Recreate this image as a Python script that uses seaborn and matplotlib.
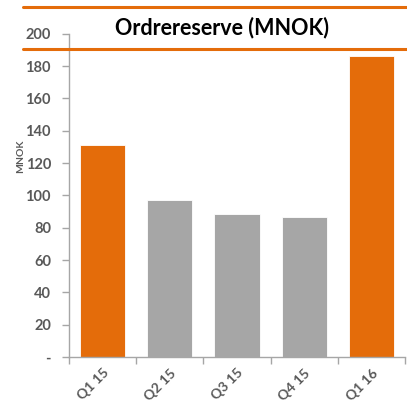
import matplotlib
matplotlib.use("Agg")
import matplotlib.pyplot as plt
import matplotlib.transforms as mtransforms
import seaborn as sns
import pandas as pd
from matplotlib.lines import Line2D

categories = ["Q1 15", "Q2 15", "Q3 15", "Q4 15", "Q1 16"]
values = [131, 97.4, 88.3, 86.7, 186.4]
bar_colors = ["#E46C0A", "#A6A6A6", "#A6A6A6", "#A6A6A6", "#E46C0A"]
yticks = [0, 20, 40, 60, 80, 100, 120, 140, 160, 180, 200]
ytick_labels = ["-"] + [str(v) for v in yticks[1:]]

sns.set_theme(style="white")
plt.rcParams['font.family'] = ['Lato', 'DejaVu Sans']

df = pd.DataFrame({"cat": categories, "val": values})

W, H = 407, 403
fig = plt.figure(figsize=(W / 100, H / 100), dpi=100)
ax = fig.add_axes([69 / W, 46 / H, (405 - 69) / W, (357 - 33.7) / H])

sns.barplot(data=df, x="cat", y="val", hue="cat", palette=bar_colors,
            legend=False, width=0.67, ax=ax, saturation=1,
            edgecolor="white", linewidth=0.6)

ax.set_ylim(0, 200)
ax.set_xlim(-0.5, 4.5)
ax.set_yticks(yticks)
ax.set_yticklabels(ytick_labels, color="#595959", fontsize=10.5, fontweight="bold")
ax.set_xlabel("")
ax.set_ylabel("MNOK", fontsize=7.5, fontweight="bold", color="#595959")
ax.yaxis.set_label_coords(-0.132, 0.62)

ax.set_xticks(range(len(categories)))
ax.set_xticklabels(categories, rotation=45, ha="right", rotation_mode="anchor",
                   color="#595959", fontsize=10, fontweight="bold")
offset = mtransforms.ScaledTranslation(4 / 100, 0, fig.dpi_scale_trans)
for lbl in ax.get_xticklabels():
    lbl.set_transform(lbl.get_transform() + offset)
ax.set_xticks([i - 0.5 for i in range(len(categories) + 1)], minor=True)
ax.tick_params(axis="x", which="major", length=0, pad=7)
ax.tick_params(axis="x", which="minor", length=5, color="#A6A6A6", width=1, bottom=True)
ax.tick_params(axis="y", which="major", length=5, color="#A6A6A6", width=1, left=True, pad=8)

for s in ["top", "right"]:
    ax.spines[s].set_visible(False)
for s in ["left", "bottom"]:
    ax.spines[s].set_color("#A6A6A6")
    ax.spines[s].set_linewidth(1)

# orange rules and title
fig.add_artist(Line2D([23 / W, 1], [1 - 7.3 / H, 1 - 7.3 / H], color="#E46C0A", lw=2.2,
                      transform=fig.transFigure))
fig.add_artist(Line2D([23 / W, 1], [1 - 48.7 / H, 1 - 48.7 / H], color="#E46C0A", lw=2.2,
                      transform=fig.transFigure))
fig.text(222 / W, 1 - 28 / H, "Ordrereserve (MNOK)", ha="center", va="center",
         fontsize=15.5, fontweight="bold", color="black")

fig.savefig("out.png", dpi=100)
